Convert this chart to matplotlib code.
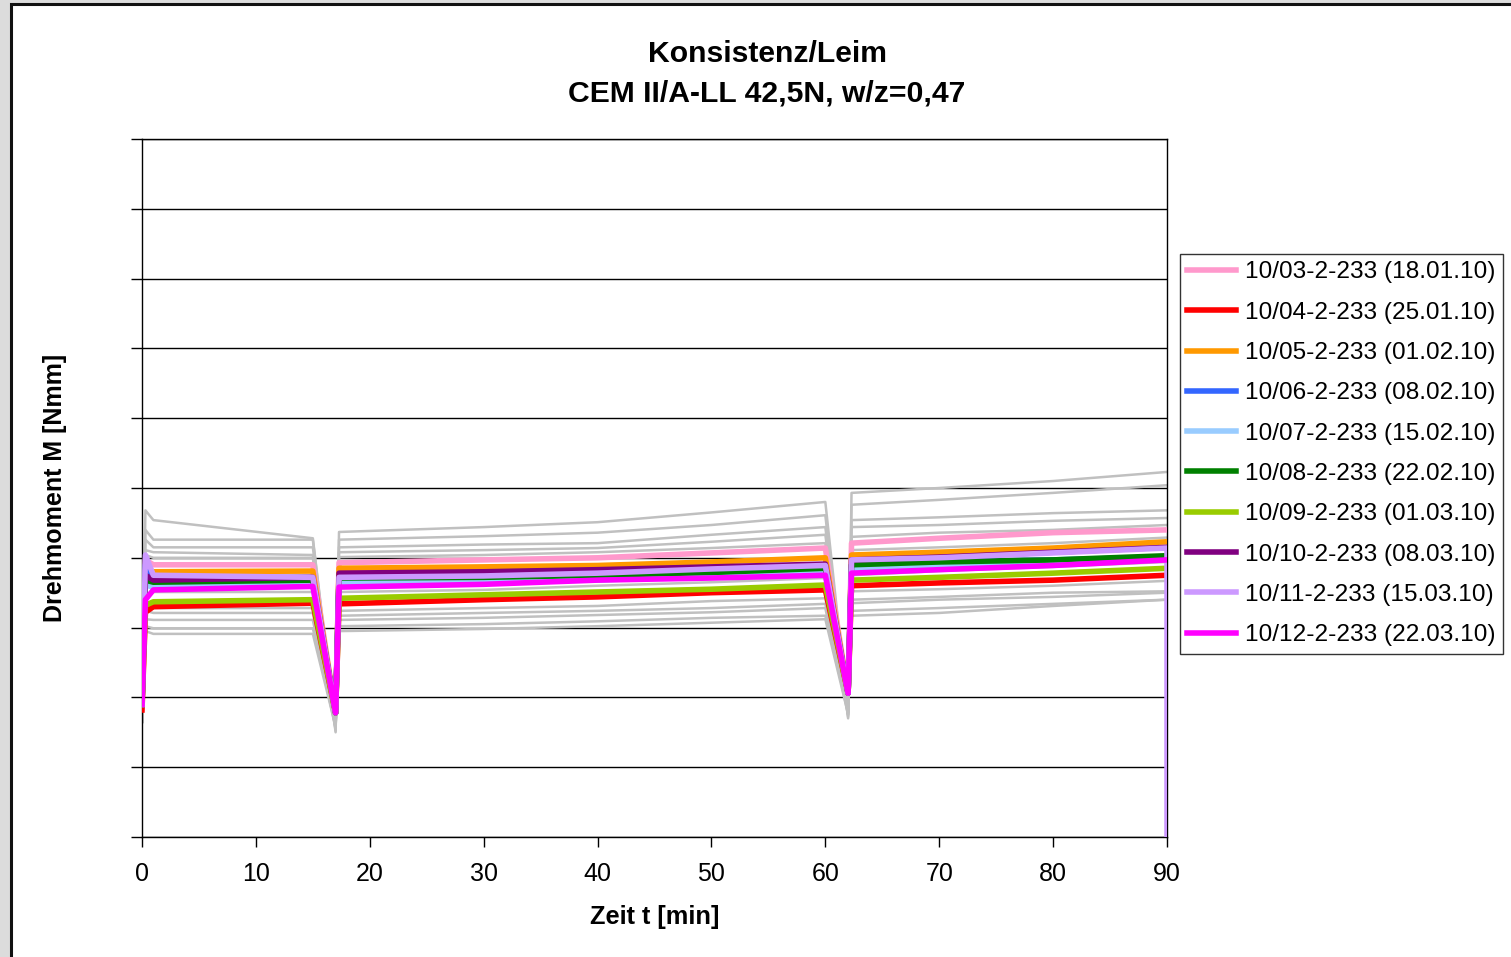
import matplotlib.pyplot as plt
from matplotlib.patches import Rectangle

plt.rcParams['font.family'] = ['Liberation Sans', 'DejaVu Sans']

# knot times in minutes
t = [0, 0.3, 1, 15, 17, 17.3, 30, 40, 50, 60, 62, 62.3, 70, 80, 90]

# torque values (arbitrary scale 0..100, axis has no labels)
pink    = [19.0, 39.7, 39.0, 39.0, 17.8, 39.3, 39.7, 40.0, 40.7, 41.4, 20.6, 42.1, 42.8, 43.6, 44.0]
red     = [18.2, 32.2, 33.0, 33.5, 17.8, 33.4, 34.0, 34.4, 35.0, 35.4, 20.6, 36.0, 36.4, 36.8, 37.5]
orange  = [19.0, 38.3, 38.0, 38.1, 17.8, 38.5, 38.7, 38.9, 39.4, 40.0, 20.6, 40.4, 40.8, 41.4, 42.3]
blue    = [19.0, 39.0, 37.1, 36.8, 17.8, 37.1, 37.2, 37.5, 37.9, 38.3, 20.6, 39.0, 39.4, 39.7, 40.1]
ltblue  = [19.0, 36.1, 35.8, 36.1, 17.8, 36.5, 36.7, 36.8, 37.5, 38.3, 20.6, 38.5, 38.8, 39.4, 40.1]
dkgreen = [19.0, 36.8, 36.5, 36.8, 17.8, 37.1, 37.2, 37.5, 37.9, 38.5, 20.6, 39.0, 39.4, 39.7, 40.3]
ygreen  = [19.0, 33.2, 33.7, 34.0, 17.8, 34.2, 34.7, 35.1, 35.5, 36.1, 20.6, 36.8, 37.2, 37.8, 38.5]
purple  = [19.0, 37.5, 36.8, 37.2, 17.8, 37.8, 38.0, 38.3, 38.7, 39.1, 20.6, 39.7, 40.1, 40.8, 41.5]
lilac_t = t + [90]
lilac   = [19.0, 40.4, 37.5, 37.2, 17.8, 37.2, 37.4, 37.8, 38.4, 38.9, 20.6, 39.7, 40.0, 40.7, 41.4, 0.0]
magenta = [19.0, 34.0, 35.4, 35.9, 17.8, 35.8, 36.2, 36.8, 37.1, 37.5, 20.6, 37.8, 38.3, 38.9, 39.7]

colored = [pink, red, orange, blue, ltblue, dkgreen, ygreen, purple, lilac, magenta]
labels = ['10/03-2-233 (18.01.10)', '10/04-2-233 (25.01.10)', '10/05-2-233 (01.02.10)',
          '10/06-2-233 (08.02.10)', '10/07-2-233 (15.02.10)', '10/08-2-233 (22.02.10)',
          '10/09-2-233 (01.03.10)', '10/10-2-233 (08.03.10)', '10/11-2-233 (15.03.10)',
          '10/12-2-233 (22.03.10)']
colors = ['#ff99cc', '#ff0000', '#ff9900', '#3366ff', '#99ccff', '#008000',
          '#99cc00', '#800080', '#cc99ff', '#ff00ff']

# grey reference curves (earlier measurements)
greys = [
    [16.5, 46.8, 45.4, 42.8, 15.5, 43.7, 44.4, 45.1, 46.5, 48.0, 17.5, 49.3, 50.0, 51.0, 52.3],
    [16.5, 44.0, 42.6, 42.6, 15.2, 42.6, 43.1, 43.6, 44.7, 46.1, 17.2, 47.6, 48.3, 49.3, 50.4],
    [16.5, 42.6, 41.5, 41.5, 16.0, 41.5, 41.9, 42.1, 43.3, 44.4, 18.0, 45.4, 45.8, 46.4, 46.8],
    [16.5, 41.1, 40.8, 40.4, 16.5, 40.8, 41.1, 41.4, 42.3, 43.3, 18.5, 44.4, 44.7, 45.3, 45.7],
    [16.5, 40.4, 40.0, 40.0, 15.0, 40.1, 40.4, 40.8, 41.4, 42.1, 17.0, 43.0, 43.6, 44.0, 44.7],
    [16.5, 38.3, 37.8, 37.5, 16.0, 37.8, 38.3, 38.8, 39.4, 40.1, 18.0, 41.1, 41.5, 42.1, 42.9],
    [16.5, 34.7, 35.1, 35.1, 16.8, 35.1, 35.4, 36.0, 36.5, 37.1, 19.0, 37.5, 38.1, 38.7, 39.4],
    [16.5, 33.2, 32.8, 32.8, 15.8, 32.4, 32.8, 33.1, 33.8, 34.2, 17.8, 35.2, 35.5, 36.0, 36.7],
    [16.5, 32.4, 32.1, 32.1, 16.2, 31.7, 32.1, 32.4, 32.8, 33.4, 18.2, 34.0, 34.4, 35.0, 35.2],
    [16.5, 31.2, 31.1, 31.1, 15.5, 31.1, 31.4, 31.8, 32.2, 32.8, 17.5, 33.5, 34.0, 34.4, 35.0],
    [16.5, 30.2, 29.9, 29.9, 16.0, 30.2, 30.5, 30.9, 31.4, 31.7, 18.0, 32.4, 32.8, 33.4, 34.0],
    [16.5, 29.5, 29.1, 29.1, 15.8, 29.5, 29.8, 30.2, 30.7, 31.2, 17.6, 31.7, 32.1, 33.1, 34.0],
]

fig = plt.figure(figsize=(15.11, 9.57), dpi=100)
fig.patch.set_facecolor('#dcdcdc')
fig.patches.append(Rectangle((11 / 1511, -0.05), 1.1, 1 - 4 / 957 + 0.05, transform=fig.transFigure,
                             facecolor='white', edgecolor='#111111', linewidth=2.2, zorder=-5))

ax = fig.add_axes([142 / 1511, 1 - 837 / 957, 1025 / 1511, 698 / 957])
ax.set_zorder(2)
ax.set_facecolor('white')

for g in greys:
    ax.plot(t, g, color='#c0c0c0', lw=1.8, zorder=2)

for i, (vals, lab, c) in enumerate(zip(colored, labels, colors)):
    xs = lilac_t if vals is lilac else t
    ax.plot(xs, vals, color=c, lw=4, label=lab, zorder=3 + i)

ax.set_xlim(0, 90)
ax.set_ylim(0, 100)
ax.set_xticks(range(0, 91, 10))
ax.set_yticks(range(0, 101, 10))
ax.set_yticklabels([])
ax.grid(axis='y', color='black', lw=1)
ax.tick_params(axis='y', direction='out', length=8, width=1)
ax.tick_params(axis='x', direction='out', length=7, width=1, labelsize=18, pad=11)
for s in ax.spines.values():
    s.set_color('black')
    s.set_linewidth(1)

ax.set_xlabel('Zeit t [min]', fontsize=18.3, fontweight='bold', labelpad=14)
fig.text(55 / 1511, 1 - 488 / 957, 'Drehmoment M [Nmm]', rotation=90, fontsize=18,
         fontweight='bold', ha='center', va='center')

fig.text(767 / 1511, 1 - 54 / 957, 'Konsistenz/Leim', fontsize=21.7, fontweight='bold',
         ha='center', va='center')
fig.text(767 / 1511, 1 - 94 / 957, 'CEM II/A-LL 42,5N, w/z=0,47', fontsize=21.7, fontweight='bold',
         ha='center', va='center')

leg = ax.legend(loc='upper left', bbox_to_anchor=(1180 / 1511, 1 - 254 / 957),
                bbox_transform=fig.transFigure, borderaxespad=0, fontsize=17.6,
                frameon=True, fancybox=False, edgecolor='black', handlelength=2.0,
                labelspacing=0.745, borderpad=0.3, handletextpad=0.35)
leg.get_frame().set_linewidth(1)
for h in leg.get_lines():
    h.set_linewidth(4)

fig.savefig('out.png', dpi=100, facecolor=fig.get_facecolor())
